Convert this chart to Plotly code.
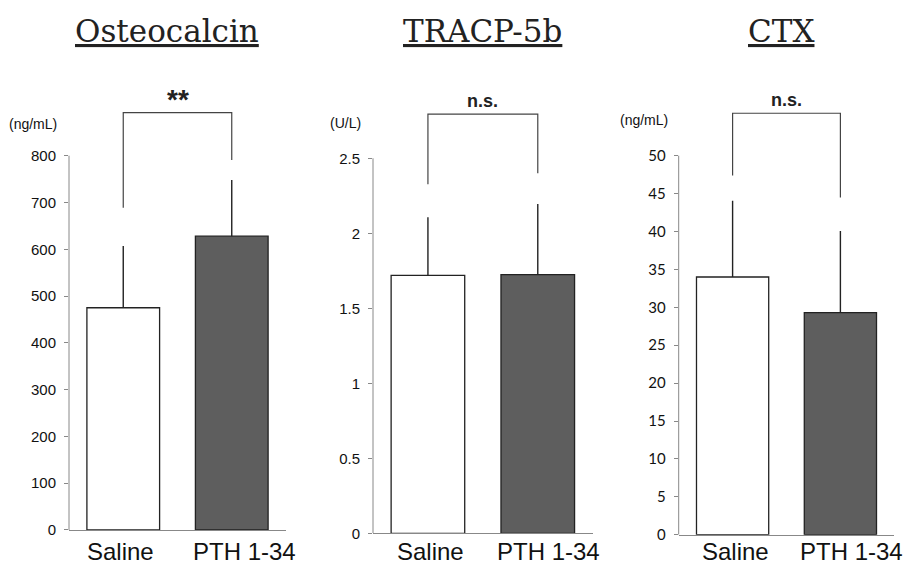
import plotly.graph_objects as go

W, H = 907, 569

categories = ["Saline", "PTH 1-34"]
titles = ["Osteocalcin", "TRACP-5b", "CTX"]
units = ["(ng/mL)", "(U/L)", "(ng/mL)"]
sig_labels = ["**", "n.s.", "n.s."]

osteo_mean = [475, 628]
osteo_sd = [132, 120]
tracp_mean = [1.72, 1.725]
tracp_sd = [0.387, 0.47]
ctx_mean = [34.0, 29.3]
ctx_sd = [10.06, 10.77]

osteo_ticks = [0, 100, 200, 300, 400, 500, 600, 700, 800]
tracp_ticks = [0, 0.5, 1, 1.5, 2, 2.5]
ctx_ticks = [0, 5, 10, 15, 20, 25, 30, 35, 40, 45, 50]

# bracket: [left leg bottom, top, right leg bottom]
osteo_bracket = [689, 892, 791]
tracp_bracket = [2.327, 2.795, 2.40]
ctx_bracket = [47.4, 55.6, 44.5]

means = [osteo_mean, tracp_mean, ctx_mean]
sds = [osteo_sd, tracp_sd, ctx_sd]
ticks = [osteo_ticks, tracp_ticks, ctx_ticks]
brackets = [osteo_bracket, tracp_bracket, ctx_bracket]

# layout (pixel geometry)
x_px = [(69, 286), (373, 592.7), (678.7, 894.3)]
zero_px = [530, 533.3, 534.7]
top_px = [155.7, 158.3, 155.7]
y_top_val = [950, 3.0, 60]
label_xshift = [(-3, 12.5), (3, 10.7), (3, 11)]
label_yshift = [-22, -18.5, -17.2]

fill_colors = ["#ffffff", "#5e5e5e"]
tick_fonts = ["Liberation Sans", "Liberation Sans", "Lato"]

fig = go.Figure()
shapes = []
annotations = []

for i in range(3):
    ax = "" if i == 0 else str(i + 1)
    xa, ya = "x" + ax, "y" + ax
    top_tick = ticks[i][-1]
    px_per = (zero_px[i] - top_px[i]) / top_tick
    dom_top_px = zero_px[i] - y_top_val[i] * px_per
    fig.add_trace(go.Bar(
        x=categories, y=means[i], xaxis=xa, yaxis=ya, width=0.67,
        marker=dict(color=fill_colors, line=dict(color="#222222", width=1.3)),
        error_y=dict(type="data", array=sds[i], arrayminus=[0, 0], symmetric=False,
                     color="#222222", thickness=1.4, width=0),
        showlegend=False,
    ))
    b = brackets[i]
    fig.add_trace(go.Scatter(
        x=[categories[0], categories[0], categories[1], categories[1]],
        y=[b[0], b[1], b[1], b[2]], xaxis=xa, yaxis=ya, mode="lines",
        line=dict(color="#444444", width=1.2), showlegend=False, hoverinfo="skip",
    ))
    annotations.append(dict(
        x=0.5, y=b[1], xref=xa, yref=ya, text="<b>" + sig_labels[i] + "</b>",
        showarrow=False, xanchor="center", yanchor="bottom", yshift=1 if i else -4,
        font=dict(family="Liberation Sans", size=28 if i == 0 else 18, color="#222"),
    ))
    for j, cat in enumerate(categories):
        annotations.append(dict(
            x=cat, y=0, xref=xa, yref=ya, text=cat, showarrow=False,
            xanchor="center", yanchor="middle",
            xshift=label_xshift[i][j], yshift=label_yshift[i],
            font=dict(family="Liberation Sans", size=24, color="#111"),
        ))
    shapes.append(dict(type="line", xref=xa + " domain", yref=ya, x0=0, x1=0,
                       y0=0, y1=top_tick, line=dict(color="#888888", width=1)))
    fig.layout["xaxis" + ax] = dict(
        domain=[x_px[i][0] / W, x_px[i][1] / W], range=[-0.5, 1.5],
        showline=True, linecolor="#888888", linewidth=1, ticks="",
        showticklabels=False,
        anchor=ya, showgrid=False, zeroline=False, automargin=False,
    )
    fig.layout["yaxis" + ax] = dict(
        domain=[1 - zero_px[i] / H, 1 - dom_top_px / H], range=[0, y_top_val[i]],
        tickvals=ticks[i], ticks="outside", ticklen=4, tickcolor="#888888",
        showline=False, showgrid=False, zeroline=False, anchor=xa,
        tickfont=dict(family=tick_fonts[i], size=15, color="#111"),
        ticklabelstandoff=5, automargin=False,
    )

title_x = [167, 482, 781]
unit_pos = [(33, 124), (345.5, 123), (644, 120)]
for i in range(3):
    annotations.append(dict(
        x=title_x[i] / W, y=1 - 31 / H, xref="paper", yref="paper",
        text="<u>" + titles[i] + "</u>", showarrow=False,
        xanchor="center", yanchor="middle",
        font=dict(family="DejaVu Serif", size=31, color="#222"),
    ))
    annotations.append(dict(
        x=unit_pos[i][0] / W, y=1 - unit_pos[i][1] / H, xref="paper", yref="paper",
        text=units[i], showarrow=False, xanchor="center", yanchor="middle",
        font=dict(family="Liberation Sans", size=14, color="#111"),
    ))

fig.update_layout(
    width=W, height=H, margin=dict(l=0, r=0, t=0, b=0, autoexpand=False),
    paper_bgcolor="white", plot_bgcolor="white",
    shapes=shapes, annotations=annotations, bargap=0.33,
)

fig.write_html("out.html", config={"displayModeBar": False},
               post_script="document.body.style.margin='0';document.body.style.overflow='hidden';")
